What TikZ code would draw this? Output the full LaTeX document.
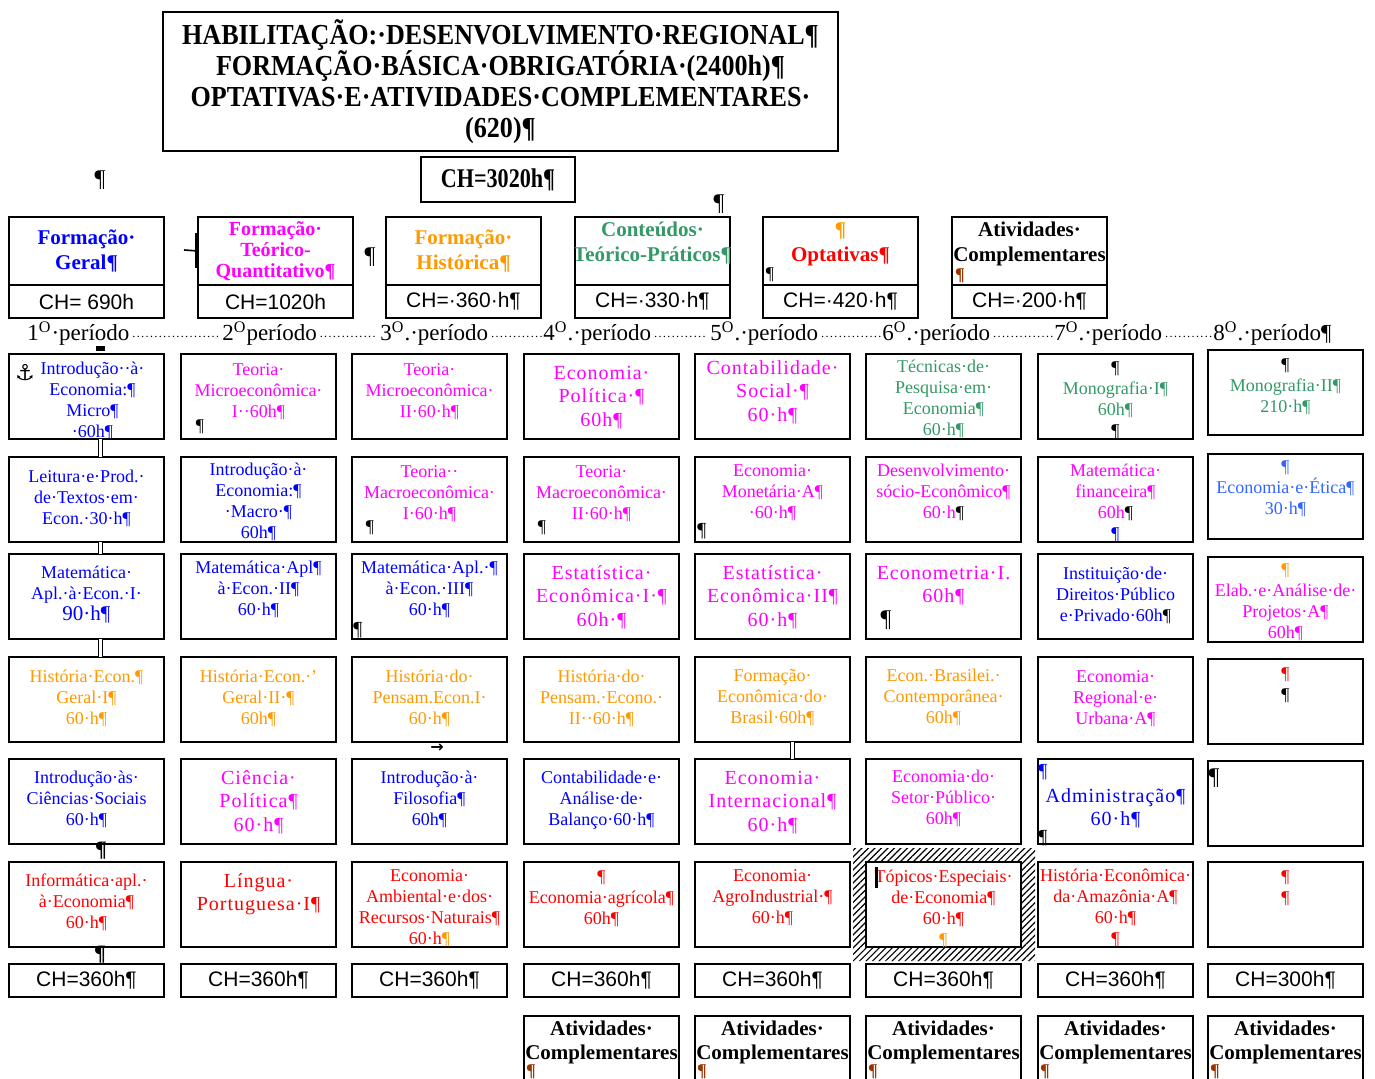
\documentclass[tikz,border=0pt]{standalone}
\usepackage{fontspec}
\setmainfont{Liberation Serif}
\newfontfamily\titlef[FakeStretch=0.9]{Liberation Serif}
\newfontfamily\chtotf[FakeStretch=0.82]{Liberation Serif}
\newfontfamily\bigf[LetterSpace=5]{Liberation Serif}
\newfontfamily\perf{Liberation Serif}
\newfontfamily\sansf{Liberation Sans}
\newfontfamily\symf{DejaVu Sans}
\usetikzlibrary{patterns.meta}
\definecolor{cblue}{RGB}{0,0,255}
\definecolor{cmag}{RGB}{255,0,255}
\definecolor{corange}{RGB}{255,153,0}
\definecolor{cgreen}{RGB}{51,153,102}
\definecolor{cred}{RGB}{255,0,0}
\definecolor{cltblue}{RGB}{51,102,255}
\definecolor{cbrown}{RGB}{153,51,0}
\newcommand{\smf}{\fontsize{9}{10.5}\selectfont}
\newcommand{\bgf}{\bigf\fontsize{10}{11.75}\selectfont}
\newcommand{\bpil}{\textcolor{black}{¶}}
\tikzset{
  cbox/.style={draw,line width=1pt,minimum width=77.5pt,minimum height=42.5pt,inner sep=0pt,outer sep=0pt},
  ctext/.style={align=center,inner sep=0pt,font=\smf},
  hbox/.style={draw,line width=1pt,minimum width=77.5pt,minimum height=34pt,inner sep=0pt,outer sep=0pt},
  hcbox/.style={draw,line width=1pt,minimum width=77.5pt,minimum height=16.5pt,inner sep=0pt,outer sep=0pt,font=\sansf\fontsize{10.5}{12}\selectfont},
  htext/.style={align=center,inner sep=0pt,font=\fontsize{10.5}{12.5}\selectfont\bfseries},
  per/.style={anchor=base west,inner sep=0pt,font=\perf\fontsize{11.5}{13}\selectfont},
  leader/.style={line width=0.75pt,line cap=round,dash pattern=on 0pt off 2.2pt},
  dbl/.style={double,double distance=1.4pt,line width=0.6pt},
  pm/.style={inner sep=0pt,font=\fontsize{9}{10}\selectfont},
  bpm/.style={inner sep=0pt,font=\fontsize{11}{12}\selectfont\bfseries},
  atext/.style={font=\fontsize{10.5}{12}\selectfont\bfseries},
}
\newcommand{\cbx}[6][]{%
  \node[cbox] (#2) at ({#3+77.5},{#4+42.5}) {};
  \begin{scope}
    \clip (#2.south west) rectangle (#2.north east);
    \node[ctext,anchor=north,#1] (#2t) at ([yshift={10pt-#5*0.5pt}]#2.north) {\rule{0pt}{10pt}#6};
  \end{scope}}
\begin{document}
\begin{tikzpicture}[x=0.5pt,y=-0.5pt]
\clip (0,0) rectangle (1375,1079);
\fill[white] (0,0) rectangle (1375,1079);

% title
\node[draw,line width=0.8pt,minimum width=337.5pt,minimum height=69.5pt,inner sep=0pt,outer sep=0pt,align=center,
  font=\titlef\bfseries\fontsize{14.5}{15.5}\selectfont] (title) at (500.5,81.5)
  {HABILITAÇÃO:·DESENVOLVIMENTO·REGIONAL¶\\FORMAÇÃO·BÁSICA·OBRIGATÓRIA·(2400h)¶\\OPTATIVAS·E·ATIVIDADES·COMPLEMENTARES·\\(620)¶};
\node[draw,line width=0.8pt,minimum width=77pt,minimum height=22.5pt,inner sep=0pt,outer sep=0pt,
  font=\chtotf\bfseries\fontsize{13.5}{15}\selectfont] (tot) at (498,179.5) {CH=3020h¶};
\node[pm,font=\fontsize{12}{12}\selectfont] (m1) at (100,180) {¶};
\node[pm,font=\fontsize{12}{12}\selectfont] (m2) at (719,204) {¶};
\node[pm,font=\fontsize{12}{12}\selectfont] (m3) at (370,257) {¶};

% header boxes
\node[hbox] (h1) at (86.5,251) {};   \node[hcbox] (hc1) at (86.5,301.5) {CH= 690h};
\node[hbox] (h2) at (275.5,251) {};  \node[hcbox] (hc2) at (275.5,301.5) {CH=1020h};
\node[hbox] (h3) at (463.5,251) {};  \node[hcbox] (hc3) at (463.5,301.5) {CH=·360·h¶};
\node[hbox] (h4) at (652.5,251) {};  \node[hcbox] (hc4) at (652.5,301.5) {CH=·330·h¶};
\node[hbox] (h5) at (840.5,251) {};  \node[hcbox] (hc5) at (840.5,301.5) {CH=·420·h¶};
\node[hbox] (h6) at (1029.5,251) {}; \node[hcbox] (hc6) at (1029.5,301.5) {CH=·200·h¶};
\node[htext,text=cblue] (h1t) at (h1) {Formação·\\Geral¶};
\node[htext,text=cmag,font=\fontsize{10}{10.5}\selectfont\bfseries] (h2t) at (h2) {Formação·\\Teórico-\\Quantitativo¶};
\node[htext,text=corange] (h3t) at (h3) {Formação·\\Histórica¶};
\begin{scope}
  \clip (h4.south west) rectangle (h4.north east);
  \node[htext,text=cgreen] (h4t) at ([yshift=3.75pt]h4) {Conteúdos·\\Teórico-Práticos¶};
\end{scope}
\node[htext] (h5t) at ([yshift=3.5pt]h5) {\textcolor{corange}{¶}\\\textcolor{cred}{Optativas¶}};
\node[pm] (h5p) at (770,275) {¶};
\node[htext] (h6t) at ([yshift=3.75pt]h6) {Atividades·\\Complementares};
\node[pm,text=cbrown,font=\fontsize{9}{10}\selectfont\bfseries] (h6p) at (960,276) {¶};
\coordinate (hk) at (184,250);
\draw[line width=0.8pt] (hk) -- (h2.west);
\draw[line width=0.8pt] (196,233) -- (196,268);

% periods
\node[per] (p1) at (27,341) {1\textsuperscript{O}·período};
\node[per] (p2) at (222,341) {2\textsuperscript{O}período};
\node[per] (p3) at (380,341) {3\textsuperscript{O}.·período};
\node[per] (p4) at (543,341) {4\textsuperscript{O}.·período};
\node[per] (p5) at (710,341) {5\textsuperscript{O}.·período};
\node[per] (p6) at (882,341) {6\textsuperscript{O}.·período};
\node[per] (p7) at (1054,341) {7\textsuperscript{O}.·período};
\node[per] (p8) at (1213,341) {8\textsuperscript{O}.·período¶};
\draw[leader] ([xshift=2pt]p1.mid east) -- ([xshift=-1pt]p2.mid west);
\draw[leader] ([xshift=2pt]p2.mid east) -- ([xshift=-1pt]p3.mid west);
\draw[leader] ([xshift=2pt]p3.mid east) -- ([xshift=-1pt]p4.mid west);
\draw[leader] ([xshift=2pt]p4.mid east) -- ([xshift=-1pt]p5.mid west);
\draw[leader] ([xshift=2pt]p5.mid east) -- ([xshift=-1pt]p6.mid west);
\draw[leader] ([xshift=2pt]p6.mid east) -- ([xshift=-1pt]p7.mid west);
\draw[leader] ([xshift=2pt]p7.mid east) -- ([xshift=-1pt]p8.mid west);

% hatch around Topicos Especiais
\fill[pattern={Lines[angle=45,distance=2.3pt,line width=0.6pt]},even odd rule]
  (853,848) rectangle (1035,961) (866,862) rectangle (1021,946);

% row 1
\cbx[text=cblue,xshift=3pt]{r1c1}{9}{354}{20}{Introdução··à·\\Economia:¶\\Micro¶\\·60h¶}
\cbx[text=cmag]{r1c2}{181}{354}{21}{Teoria·\\Microeconômica·\\I··60h¶}
\cbx[text=cmag]{r1c3}{352}{354}{21}{Teoria·\\Microeconômica·\\II·60·h¶}
\cbx[text=cmag,font=\bgf]{r1c4}{524}{354}{25}{Economia·\\Política·¶\\60h¶}
\cbx[text=cmag,font=\bgf]{r1c5}{695}{354}{20}{Contabilidade·\\Social·¶\\60·h¶}
\cbx[text=cgreen]{r1c6}{866}{354}{18}{Técnicas·de·\\Pesquisa·em·\\Economia¶\\60·h¶}
\cbx[text=cgreen]{r1c7}{1038}{354}{19}{\bpil\\Monografia·I¶\\60h¶\\\bpil}
\cbx[text=cgreen]{r1c8}{1208}{350}{20}{\bpil\\Monografia·II¶\\210·h¶}
% row 2
\cbx[text=cblue]{r2c1}{9}{457}{25}{Leitura·e·Prod.·\\de·Textos·em·\\Econ.·30·h¶}
\cbx[text=cblue]{r2c2}{181}{457}{18}{Introdução·à·\\Economia:¶\\·Macro·¶\\60h¶}
\cbx[text=cmag]{r2c3}{352}{457}{20}{Teoria··\\Macroeconômica·\\I·60·h¶}
\cbx[text=cmag]{r2c4}{524}{457}{20}{Teoria·\\Macroeconômica·\\II·60·h¶}
\cbx[text=cmag]{r2c5}{695}{457}{19}{Economia·\\Monetária·A¶\\·60·h¶}
\cbx[text=cmag]{r2c6}{866}{457}{19}{Desenvolvimento·\\sócio-Econômico¶\\60·h\bpil}
\cbx[text=cmag]{r2c7}{1038}{457}{19}{Matemática·\\financeira¶\\60h\bpil\\\textcolor{cblue}{¶}}
\cbx[text=cltblue]{r2c8}{1208}{454}{18}{¶\\Economia·e·Ética¶\\30·h¶}
% row 3
\cbx[text=cblue]{r3c1}{9}{554}{24}{Matemática·\\Apl.·à·Econ.·I·\\{\fontsize{10.5}{12}\selectfont 90·h¶}}
\cbx[text=cblue]{r3c2}{181}{554}{19}{Matemática·Apl¶\\à·Econ.·II¶\\60·h¶}
\cbx[text=cblue]{r3c3}{352}{554}{19}{Matemática·Apl.·¶\\à·Econ.·III¶\\60·h¶}
\cbx[text=cmag,font=\bgf]{r3c4}{524}{554}{25}{Estatística·\\Econômica·I·¶\\60h·¶}
\cbx[text=cmag,font=\bgf]{r3c5}{695}{554}{25}{Estatística·\\Econômica·II¶\\60·h¶}
\cbx[text=cmag,font=\bgf]{r3c6}{866}{554}{25}{Econometria·I.\\60h¶}
\cbx[text=cblue]{r3c7}{1038}{554}{25}{Instituição·de·\\Direitos·Público\\e·Privado·60h\bpil}
\cbx[text=cmag]{r3c8}{1208}{557}{18}{\textcolor{corange}{¶}\\Elab.·e·Análise·de·\\Projetos·A¶\\60h¶}
% row 4
\cbx[text=corange]{r4c1}{9}{657}{25}{História·Econ.¶\\Geral·I¶\\60·h¶}
\cbx[text=corange]{r4c2}{181}{657}{25}{História·Econ.·'\\Geral·II·¶\\60h¶}
\cbx[text=corange]{r4c3}{352}{657}{25}{História·do·\\Pensam.Econ.I·\\60·h¶}
\cbx[text=corange]{r4c4}{524}{657}{25}{História·do·\\Pensam.·Econo.·\\II··60·h¶}
\cbx[text=corange]{r4c5}{695}{657}{24}{Formação·\\Econômica·do·\\Brasil·60h¶}
\cbx[text=corange]{r4c6}{866}{657}{24}{Econ.·Brasilei.·\\Contemporânea·\\60h¶}
\cbx[text=cmag]{r4c7}{1038}{657}{25}{Economia·\\Regional·e·\\Urbana·A¶}
\cbx[text=cred]{r4c8}{1208}{659}{20}{¶\\\bpil}
% row 5
\cbx[text=cblue]{r5c1}{9}{759}{24}{Introdução·às·\\Ciências·Sociais\\60·h¶}
\cbx[text=cmag,font=\bgf]{r5c2}{181}{759}{25}{Ciência·\\Política¶\\60·h¶}
\cbx[text=cblue]{r5c3}{352}{759}{24}{Introdução·à·\\Filosofia¶\\60h¶}
\cbx[text=cblue]{r5c4}{524}{759}{24}{Contabilidade·e·\\Análise·de·\\Balanço·60·h¶}
\cbx[text=cmag,font=\bgf]{r5c5}{695}{759}{25}{Economia·\\Internacional¶\\60·h¶}
\cbx[text=cmag]{r5c6}{866}{759}{23}{Economia·do·\\Setor·Público·\\60h¶}
\cbx[text=cblue,font=\bgf]{r5c7}{1038}{759}{43}{Administração¶\\60·h¶}
\cbx{r5c8}{1208}{761}{20}{}
% row 6
\cbx[text=cred]{r6c1}{9}{862}{24}{Informática·apl.·\\à·Economia¶\\60·h¶}
\cbx[text=cred,font=\bgf]{r6c2}{181}{862}{25}{Língua·\\Portuguesa·I¶}
\cbx[text=cred]{r6c3}{352}{862}{19}{Economia·\\Ambiental·e·dos·\\Recursos·Naturais¶\\60·h\textcolor{corange}{¶}}
\cbx[text=cred]{r6c4}{524}{862}{20}{¶\\Economia·agrícola¶\\60h¶}
\cbx[text=cred]{r6c5}{695}{862}{19}{Economia·\\AgroIndustrial·¶\\60·h¶}
\cbx[text=cred]{r6c6}{866}{862}{20}{Tópicos·Especiais·\\de·Economia¶\\60·h¶\\\textcolor{corange}{¶}}
\cbx[text=cred]{r6c7}{1038}{862}{19}{História·Econômica·\\da·Amazônia·A¶\\60·h¶\\¶}
\cbx[text=cred]{r6c8}{1208}{862}{20}{¶\\¶}

% CH row
\node[hcbox] (ch1) at (86.5,980.5) {CH=360h¶};
\node[hcbox] (ch2) at (258.5,980.5) {CH=360h¶};
\node[hcbox] (ch3) at (429.5,980.5) {CH=360h¶};
\node[hcbox] (ch4) at (601.5,980.5) {CH=360h¶};
\node[hcbox] (ch5) at (772.5,980.5) {CH=360h¶};
\node[hcbox] (ch6) at (943.5,980.5) {CH=360h¶};
\node[hcbox] (ch7) at (1115.5,980.5) {CH=360h¶};
\node[hcbox] (ch8) at (1285.5,980.5) {CH=300h¶};

% Atividades complementares row
\cbx[atext]{a4}{524}{1016}{19}{Atividades·\\Complementares}
\cbx[atext]{a5}{695}{1016}{19}{Atividades·\\Complementares}
\cbx[atext]{a6}{866}{1016}{19}{Atividades·\\Complementares}
\cbx[atext]{a7}{1038}{1016}{19}{Atividades·\\Complementares}
\cbx[atext]{a8}{1208}{1016}{19}{Atividades·\\Complementares}
\foreach \n/\xx in {a4/531,a5/702,a6/873,a7/1045,a8/1215}
  \node[pm,text=cbrown,font=\fontsize{9}{10}\selectfont\bfseries] (\n p) at (\xx,1072) {¶};

% small marks
\node[inner sep=0pt,font=\symf\fontsize{11}{11}\selectfont] (anch) at (25,373) {⚓};
\fill (96,346) rectangle (105,351);
\draw[dbl] ([xshift=7pt]r1c1.south) -- ([xshift=7pt]r2c1.north);
\draw[dbl] ([xshift=7pt]r2c1.south) -- ([xshift=7pt]r3c1.north);
\draw[dbl] ([xshift=7pt]r3c1.south) -- ([xshift=7pt]r4c1.north);
\draw[dbl] ([xshift=10pt]r4c5.south) -- ([xshift=10pt]r5c5.north);
\node[bpm] (m4) at (101,851) {¶};
\node[bpm] (m5) at (100,955) {¶};
\node[inner sep=0pt,font=\symf\bfseries\fontsize{8}{8}\selectfont] (arr) at (437,748) {→};
\node[pm] (q1) at (200,427) {¶};
\node[pm] (q2) at (370,528) {¶};
\node[pm] (q3) at (542,528) {¶};
\node[pm,font=\fontsize{10}{10}\selectfont] (q4) at (702,531) {¶};
\node[pm,font=\fontsize{10}{10}\selectfont] (q5) at (358,630) {¶};
\node[pm,font=\fontsize{12}{12}\selectfont] (q6) at (886,620) {¶};
\node[pm,text=cblue,font=\fontsize{10}{10}\selectfont] (q7) at (1043,772) {¶};
\node[pm,font=\fontsize{10}{10}\selectfont] (q8) at (1043,838) {¶};
\node[pm,font=\fontsize{12}{12}\selectfont] (q9) at (1214,778) {¶};
\fill (875,867) rectangle (878,888);
\end{tikzpicture}
\end{document}
